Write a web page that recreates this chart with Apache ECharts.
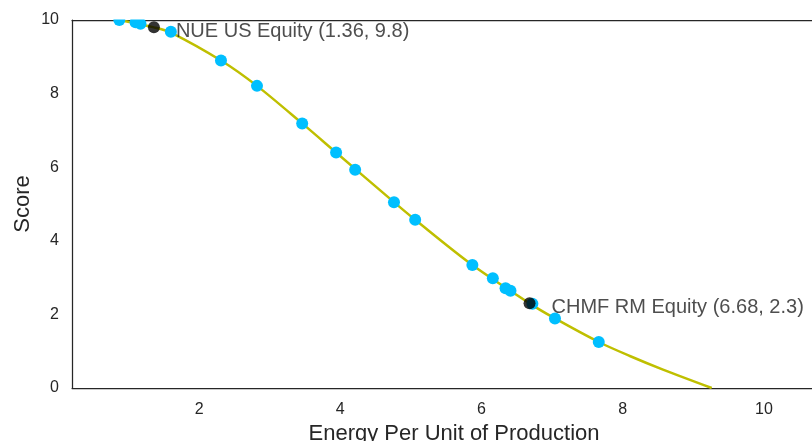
<!DOCTYPE html>
<html>
<head>
<meta charset="utf-8">
<script src="https://cdn.jsdelivr.net/npm/echarts@6/dist/echarts.min.js"></script>
<style>html,body{margin:0;padding:0;background:#fff}#c{width:812px;height:441px}</style>
</head>
<body>
<div id="c"></div>
<script>
// Scatter points (blue)
const pointX = [0.87, 1.10, 1.17, 1.60, 2.31, 2.82, 3.46, 3.94, 4.21, 4.76, 5.06, 5.87, 6.16, 6.34, 6.41, 6.72, 7.04, 7.66];
const pointY = [10.0, 9.94, 9.90, 9.68, 8.90, 8.21, 7.19, 6.40, 5.93, 5.05, 4.57, 3.34, 2.98, 2.71, 2.64, 2.29, 1.89, 1.25];
// Highlighted companies (black)
const highlightNames = ["NUE US Equity", "CHMF RM Equity"];
const highlightX = [1.36, 6.68];
const highlightY = [9.8, 2.3];
// Fitted curve
const curveX = [0.87, 1.36, 1.60, 2.31, 2.82, 3.46, 3.94, 4.76, 5.06, 5.87, 6.68, 7.04, 7.66, 8.10, 8.57, 9.26];
const curveY = [10.0, 9.80, 9.66, 8.90, 8.21, 7.19, 6.40, 5.05, 4.57, 3.34, 2.30, 1.89, 1.25, 0.87, 0.50, 0.0];
// Tick labels
const xTicks = [2, 4, 6, 8, 10];
const yTicks = [0, 2, 4, 6, 8, 10];

const ink = '#262626';
const font = 'Liberation Sans, Arial, sans-serif';
const chart = echarts.init(document.getElementById('c'), null, {renderer: 'canvas'});
chart.setOption({
  animation: false,
  backgroundColor: '#ffffff',
  grid: {left: 72, right: -24, top: 20, bottom: 53, containLabel: false, outerBoundsMode: 'none'},
  graphic: [{
    type: 'rect', z: 50, silent: true,
    shape: {x: 73, y: 0, width: 740, height: 19.4},
    style: {fill: '#ffffff'}
  }],
  xAxis: [{
    type: 'value', min: 0.2, max: 11.02,
    name: 'Energy Per Unit of Production', nameLocation: 'middle', nameGap: 35,
    nameMoveOverlap: false,
    nameTextStyle: {fontSize: 22, color: ink, fontFamily: font},
    axisLine: {show: true, lineStyle: {color: ink, width: 1.25}},
    axisTick: {show: false},
    splitLine: {show: false},
    axisLabel: {customValues: xTicks, fontSize: 16, color: ink, fontFamily: font, margin: 14}
  }, {
    type: 'value', position: 'top', min: 0.2, max: 11.02,
    axisLine: {show: true, onZero: false, lineStyle: {color: ink, width: 1.25}},
    axisTick: {show: false}, axisLabel: {show: false}, splitLine: {show: false}
  }],
  yAxis: {
    type: 'value', min: 0, max: 10, interval: 2,
    name: 'Score', nameLocation: 'middle', nameGap: 38,
    nameMoveOverlap: false,
    nameTextStyle: {fontSize: 22, color: ink, fontFamily: font},
    axisLine: {show: true, lineStyle: {color: ink, width: 1.25}},
    axisTick: {show: false},
    splitLine: {show: false},
    axisLabel: {customValues: yTicks, fontSize: 16, color: ink, fontFamily: font, margin: 13}
  },
  series: [{
    type: 'line',
    data: curveX.map((x, i) => [x, curveY[i]]),
    smooth: 0.3, showSymbol: false, symbol: 'none',
    lineStyle: {color: '#BFBF00', width: 2.5},
    z: 1
  }, {
    type: 'scatter',
    data: pointX.map((x, i) => [x, pointY[i]]),
    symbolSize: 12,
    itemStyle: {color: '#00BFFF', opacity: 1},
    z: 2
  }, {
    type: 'scatter',
    data: highlightX.map((x, i) => ({value: [x, highlightY[i]], name: highlightNames[i]})),
    symbolSize: 12,
    itemStyle: {color: '#000000'},
    label: {
      show: true, position: 'right', distance: 16, offset: [0, 4],
      formatter: p => `${p.name} (${p.value[0]}, ${p.value[1]})`,
      fontSize: 20, color: '#222222', fontFamily: font
    },
    z: 3
  }]
});
</script>
</body>
</html>
